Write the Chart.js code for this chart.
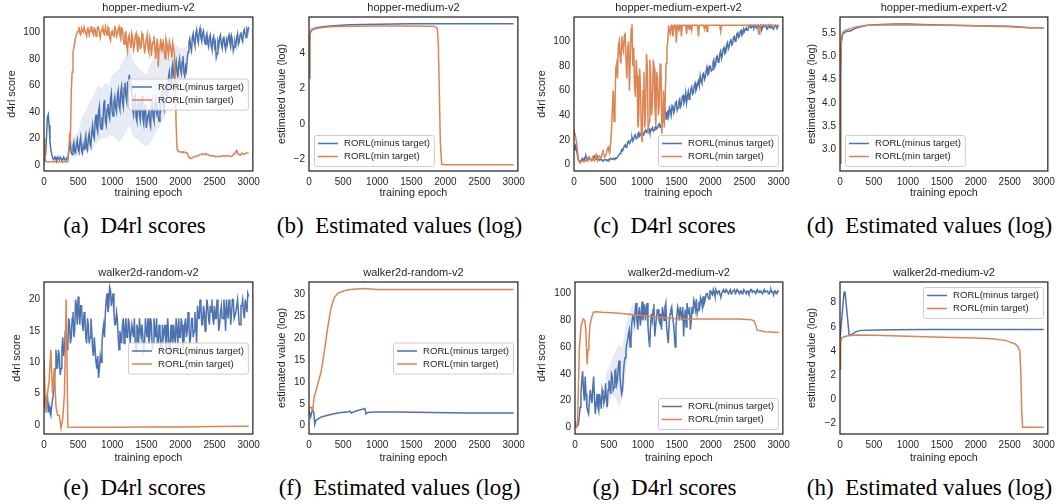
<!DOCTYPE html>
<html>
<head>
<meta charset="utf-8">
<script src="https://cdn.jsdelivr.net/npm/chart.js@4.4.0/dist/chart.umd.min.js"></script>
<style>
  body{margin:0;background:#fff;width:1060px;height:504px;position:relative;overflow:hidden}
  canvas{position:absolute}
  .cap{position:absolute;width:265px;text-align:center;font-family:"Liberation Serif","Times New Roman",serif;font-size:23px;line-height:23px;color:#000;white-space:nowrap}
  .cap span{margin-left:6px}
</style>
</head>
<body>
<div class="cap" style="left:2px;top:214px">(a) <span>D4rl scores</span></div>
<div class="cap" style="left:267px;top:214px">(b) <span>Estimated values (log)</span></div>
<div class="cap" style="left:532px;top:214px">(c) <span>D4rl scores</span></div>
<div class="cap" style="left:797px;top:214px">(d) <span>Estimated values (log)</span></div>
<div class="cap" style="left:2px;top:476px">(e) <span>D4rl scores</span></div>
<div class="cap" style="left:267px;top:476px">(f) <span>Estimated values (log)</span></div>
<div class="cap" style="left:532px;top:476px">(g) <span>D4rl scores</span></div>
<div class="cap" style="left:797px;top:476px">(h) <span>Estimated values (log)</span></div>
<script>
// ---- data ----
const MINUS_LABEL = "RORL(minus target)";
const MIN_LABEL = "RORL(min target)";
const X_TICKS = [0,500,1000,1500,2000,2500,3000];

const EPOCHS = [0,25,50,75,100,125,150,175,200,225,250,275,300,325,350,375,400,425,450,475,
  500,525,550,575,600,625,650,675,700,725,750,775,800,825,850,875,900,925,950,975,
  1000,1025,1050,1075,1100,1125,1150,1175,1200,1225,1250,1275,1300,1325,1350,1375,1400,1425,1450,1475,
  1500,1525,1550,1575,1600,1625,1650,1675,1700,1725,1750,1775,1800,1825,1850,1875,1900,1925,1950,1975,
  2000,2025,2050,2075,2100,2125,2150,2175,2200,2225,2250,2275,2300,2325,2350,2375,2400,2425,2450,2475,
  2500,2525,2550,2575,2600,2625,2650,2675,2700,2725,2750,2775,2800,2825,2850,2875,2900,2925,2950,2975,
  3000];
// in-between epochs for the noisiest curves
const MID_EPOCHS = [12.5,37.5,62.5,87.5,112.5,137.5,162.5,187.5,212.5,237.5,262.5,287.5,312.5,337.5,362.5,387.5,412.5,437.5,462.5,487.5,
  512.5,537.5,562.5,587.5,612.5,637.5,662.5,687.5,712.5,737.5,762.5,787.5,812.5,837.5,862.5,887.5,912.5,937.5,962.5,987.5,
  1012.5,1037.5,1062.5,1087.5,1112.5,1137.5,1162.5,1187.5,1212.5,1237.5,1262.5,1287.5,1312.5,1337.5,1362.5,1387.5,1412.5,1437.5,1462.5,1487.5,
  1512.5,1537.5,1562.5,1587.5,1612.5,1637.5,1662.5,1687.5,1712.5,1737.5,1762.5,1787.5,1812.5,1837.5,1862.5,1887.5,1912.5,1937.5,1962.5,1987.5,
  2012.5,2037.5,2062.5,2087.5,2112.5,2137.5,2162.5,2187.5,2212.5,2237.5,2262.5,2287.5,2312.5,2337.5,2362.5,2387.5,2412.5,2437.5,2462.5,2487.5,
  2512.5,2537.5,2562.5,2587.5,2612.5,2637.5,2662.5,2687.5,2712.5,2737.5,2762.5,2787.5,2812.5,2837.5,2862.5,2887.5,2912.5,2937.5,2962.5,2987.5];

// (a) hopper-medium-v2, d4rl score
const A_MINUS = [15,8,36,30,12,6,5,4,6,4,5,4,5,4,5,13,9,14,10,16,
  12,17,11,15,18,13,20,16,25,22,33,28,40,30,36,45,33,42,38,50,
  40,47,43,52,45,55,48,58,52,63,68,55,42,50,36,45,38,48,35,42,
  28,38,32,44,36,46,40,36,47,52,45,58,54,66,62,72,68,74,70,76,
  72,78,70,74,80,92,89,96,93,99,95,100,96,99,94,97,92,96,90,95,
  89,81,93,96,91,95,90,94,96,92,97,86,93,96,91,98,95,100,98,102,
  104];
const A_MINUS_MID = [5,22,38,18,8,4,6,3,5,6,3.5,6,3.5,5.5,10,16,8,17,9,19,
  10,21,9,12,22,11,24,14,30,20,38,25,44,27,32,49,30,46,35,54,
  37,51,40,56,42,59,44,62,48,58,62,60,38,54,33,50,34,52,31,46,
  33,42,29,48,33,50,44,33,43,56,42,62,50,70,58,76,65,78,66,80,
  69,82,67,71,85,95,86,99,90,102,92,103,93,101,91,99,89,98,87,97,
  92,84,90,98,88,97,87,91,98,89,94,89,90,99,93,100,93,102,96,100];
const A_MIN = [20,3,2.5,2.5,2.5,2.4,2.5,2.6,2.5,2.4,2.5,2.6,2.5,2.5,3,22,55,85,92,98,
  101,99,103,100,104,97,103,101,104,98,102,100,104,96,102,99,104,98,103,94,
  101,97,103,99,104,95,102,91,100,86,98,88,96,90,99,85,95,89,97,84,
  94,88,96,82,93,87,91,74,90,85,93,80,92,83,90,81,88,60,12,10,
  10,9.5,10,9,9,6,5,5.5,6,6.5,7,7.5,8,8.5,8,8.5,8,7.5,7,7,
  6.5,6.5,6.5,6.5,6.5,7,6.5,7,6.5,7,6.5,8,9,11,8,7.5,9,8,8.5,9,
  9];
const A_MIN_MID = [8,2.5,2.5,2.5,2.5,2.5,2.5,2.5,2.5,2.5,2.5,2.5,2.5,2.5,12,20,70,88,96,100,
  104,98,101,104,99,103,98,104,100,103,97,104,99,101,104,98,101,104,96,100,
  98,104,97,102,98,103,94,99,90,96,92,99,87,97,92,96,88,99,92,90,
  98,85,92,90,97,80,95,88,95,91,86,95,87,93,86,92,84,30,11,10,
  9.5,10,9.5,9,7,5.5,5,6,6,7,7,8,8,8.5,8,8,7.5,7,7,7,
  6.5,6.5,6.5,6.5,7,7,7,7,7,6.5,7,8.5,10,9,8,8,8.5,8.5,9,9];
const A_BAND_X = [400,450,500,550,600,650,700,750,800,850,900,950,1000,1050,1100,1150,1200,1250,1300,1350,
  1400,1450,1500,1550,1600,1650,1700,1750,1800,1850,1900,1950,2000,2050,2100];
const A_BAND_HI = [20,22,25,35,40,45,50,55,60,58,62,60,68,70,72,78,82,88,80,75,
  72,70,68,75,80,85,88,90,92,92,92,90,88,88,90];
const A_BAND_LO = [5,6,7,8,10,10,12,15,18,20,20,22,22,20,18,20,25,30,22,20,
  18,15,14,16,20,25,30,35,40,45,50,55,58,62,70];

// (b) hopper-medium-v2, estimated value (log)
const B_MINUS_X = [0,10,20,40,80,150,300,600,1000,1500,2000,2500,3000];
const B_MINUS = [2.6,4.6,5.2,5.35,5.42,5.48,5.55,5.62,5.65,5.67,5.68,5.68,5.68];
const B_MIN_X = [0,10,20,40,80,150,300,600,1000,1500,1800,1860,1880,1895,1910,1925,1945,2000,2500,3000];
const B_MIN = [2.6,4.5,5.15,5.3,5.38,5.44,5.5,5.53,5.55,5.55,5.54,5.5,5.4,4.6,2.0,-1.0,-2.3,-2.32,-2.32,-2.32];

// (c) hopper-medium-expert-v2, d4rl score
const C_MINUS = [12,16,8,3,2.5,5,3,7,4,6,3.5,5,7,4,6,3.5,4.5,3,4,3.5,
  4,4.5,4,5,4.5,5,7,9,12,13,16,15,19,18,22,21,24,22,26,24,
  27,25,28,27,29,27,30,28,31,30,33,31,36,41,37,43,46,40,47,45,
  51,46,53,49,56,52,50,59,56,63,58,66,62,68,72,66,74,71,79,74,
  80,77,85,81,88,84,92,89,95,91,99,96,102,98,104,101,107,104,109,106,
  108,111,110,113,111,112,113,111,113,112,109,113,112,110,113,111,112,110,113,111,
  113];
const C_MINUS_MID = [15,11,4,2,4,3.5,6,5,5,4,4,6,5,5,4.5,4,3.5,3.5,4,3,
  3.5,5,4.5,4,5.5,6,8,10,11,15,14,18,17,20,19,23,21,25,23,26,
  24,27,26,29,26,29,27,30,29,32,30,34,35,44,42,39,44,48,42,50,
  44,51,47,55,50,58,55,53,61,57,64,60,66,64,68,73,69,76,73,80,
  76,83,79,87,83,90,86,94,90,97,94,100,97,103,100,106,103,108,105,110,
  110,109,112,111,113,111,112,113,111,113,111,112,113,110,112,113,111,112,112,112];
const C_MIN = [24,22,12,2.5,2,3,2,4,2.5,5,3,6,3,8,4,7,5,12,6,9,
  14,10,28,60,45,82,96,88,104,92,106,70,100,85,114,95,55,72,40,62,
  18,75,45,80,35,70,50,78,32,68,48,78,38,30,82,100,108,113,104,113,
  99,113,113,104,113,113,106,113,113,109,113,113,113,104,113,113,113,113,108,113,
  113,113,113,113,113,113,108,113,113,113,113,113,113,113,113,113,113,113,113,113,
  113,113,113,113,113,113,113,113,109,113,113,113,113,113,113,113,113,113,113,113,
  113];
const C_MIN_MID = [25,18,4,2,2.5,2.5,3,3,4,4,4,4,6,5,6,6,9,8,7,12,
  11,18,45,35,78,70,100,82,95,105,85,95,60,110,80,65,85,30,78,25,
  60,30,90,25,85,40,85,45,75,40,82,25,60,55,95,113,106,113,110,113,
  113,108,113,113,113,113,113,110,113,113,113,113,113,113,113,113,110,113,113,113,
  113,113,113,113,113,113,113,113,113,113,113,113,113,113,113,113,113,113,113,113,
  113,113,113,113,113,113,113,113,106,113,113,113,113,113,113,113,113,113,113,113];

// (d) hopper-medium-expert-v2, estimated value (log)
const D_MINUS_X = [0,10,20,40,80,150,250,400,600,800,1000,1200,1500,2000,2500,2800,3000];
const D_MINUS = [2.7,4.6,5.3,5.48,5.53,5.55,5.62,5.67,5.69,5.7,5.7,5.69,5.68,5.66,5.65,5.62,5.62];
const D_MIN_X = [0,10,20,40,80,150,250,400,600,800,1000,1200,1500,2000,2500,2800,3000];
const D_MIN = [2.7,4.7,5.4,5.52,5.56,5.6,5.64,5.67,5.68,5.68,5.68,5.68,5.67,5.66,5.64,5.62,5.62];

// (e) walker2d-random-v2, d4rl score
const E_MINUS = [4.5,2.5,5,3,1.5,4,6,12,9,11,9,14,12,15,13,16,14,18,15,19,
  20.5,16,19,15,17,13,16,14,15,11,12,9,7.5,11,13,16,18,21,19,21.5,
  20,18,16,17,12,14,16,13,17,14,16,13,15,17,12,15,17,14,16,13,
  15,17,14,16,13,15,17,13,15,12,14,16,13,15,12,14,16,13,15,17,
  14,16,13,17,15,16,14,17,15,16,19,17,19,16,18,17,19,16,18,17,
  19,17,18,16,19,17,18,20,17,19,18,20,17,19,18,16,19,18,20,18,
  20.5];
const E_MINUS_MID = [3,4,2,2,3,5,9,10,12,8,12,11,15,12,17,13,17,14,20,16,
  18,19,16,18,14,17,13,17,12,14,10,11,9,10,15,14,20,18,22,19,
  21,16,18,14,15,13,17,15,14,17,13,16,14,13,16,13,15,16,12,17,
  14,13,17,12,17,14,13,16,12,16,15,12,17,11,16,13,14,17,13,14,
  17,12,16,14,18,13,17,14,18,13,17,20,16,19,15,20,17,19,20,16,
  17,20,15,18,17,20,15,18,20,16,20,17,18,20,16,19,20,17,19,21];
const E_MIN_X = [0,25,50,75,100,125,150,175,200,225,250,275,300,325,350,500,1000,1500,2000,2500,3000];
const E_MIN = [10.5,2,5,7,12,5,9,3,1.5,1.5,-0.5,1,5,20,-0.3,-0.35,-0.35,-0.3,-0.3,-0.25,-0.2];

// (f) walker2d-random-v2, estimated value (log)
const F_MINUS_X = [0,25,50,70,85,100,130,180,275,370,470,560,600,620,700,800,820,835,860,950,1300,1800,2300,3000];
const F_MINUS = [3.5,2.0,3.8,3.0,0.3,1.2,1.5,2.0,2.4,2.7,3.0,3.1,3.3,2.9,3.4,3.8,3.9,2.7,3.0,3.1,3.1,3.0,2.9,2.9];
const F_MIN_X = [0,30,55,75,130,180,230,275,325,370,420,515,610,800,900,1000,2000,3000];
const F_MIN = [4,4.2,3.6,6.5,9.5,12.5,17.5,22.5,27,29.2,30.2,30.8,31.1,31.3,31.2,31.1,31.1,31.1];

// (g) walker2d-medium-v2, d4rl score
const G_MINUS = [1,0.5,2,15,35,28,38,15,10,28,18,38,10,25,12,20,28,18,33,15,
  35,25,38,30,43,35,50,30,28,48,58,65,73,66,83,78,93,73,90,82,
  80,92,88,76,60,85,88,68,82,88,78,73,86,90,75,63,85,90,78,60,
  83,87,90,80,68,88,93,85,73,90,95,88,85,94,97,90,92,98,100,96,
  102,99,101,103,100,102,98,102,101,103,101,102,100,102,103,101,102,100,102,101,
  102,100,102,101,103,102,101,102,101,102,101,102,101,102,100,102,101,99,102,101,
  101];
const G_MINUS_MID = [0.5,1,8,25,42,20,25,12,20,22,30,20,18,15,25,14,24,22,20,28,
  30,40,28,42,32,45,38,25,40,52,62,70,60,78,82,88,80,85,76,94,
  86,80,93,66,75,80,92,75,88,80,85,90,80,93,68,78,88,82,70,75,
  90,80,85,90,82,75,86,90,80,85,92,96,88,90,95,98,94,100,97,102,
  100,103,98,101,102,99,100,103,101,102,100,103,101,102,100,103,101,102,100,103,
  101,102,100,103,101,102,100,103,101,102,100,103,101,102,100,103,101,102,100,102];
const G_MIN_X = [0,20,35,50,65,90,120,145,160,178,192,205,220,245,270,300,400,600,800,1000,
  1200,1400,1600,2000,2400,2600,2640,2660,2680,2700,2800,3000];
const G_MIN = [5,0,1,30,60,76,81,80,72,47,58,65,76,82,86,86.5,86,85.5,84.5,83.5,
  82.5,81.5,81,81,81,80.5,79.5,77,73,72.5,71.5,71];
const G_BAND_X = [450,500,550,600,650,700,750,800,850,900];
const G_BAND_HI = [40,45,52,58,62,60,78,86,92,95];
const G_BAND_LO = [12,18,24,22,15,22,42,60,68,74];

// (h) walker2d-medium-v2, estimated value (log)
const H_MINUS_X = [0,60,75,135,170,240,310,550,800,1300,3000];
const H_MINUS = [5.0,8.85,8.85,5.3,5.35,5.6,5.7,5.73,5.75,5.77,5.77];
const H_MIN_X = [0,10,25,50,120,250,500,1000,1500,2000,2250,2450,2580,2620,2650,2665,2677,2690,3000];
const H_MIN = [2.5,4.6,5.05,5.15,5.25,5.32,5.3,5.22,5.13,5.06,5.0,4.85,4.57,4.35,4.0,2.0,-1.0,-2.33,-2.33];

const TICKS_SCORE = [0,20,40,60,80,100];
const TICKS_B = [-2,0,2,4];
const TICKS_D = [3.0,3.5,4.0,4.5,5.0,5.5];
const TICKS_E = [0,5,10,15,20];
const TICKS_F = [0,5,10,15,20,25,30];
const TICKS_H = [-2,0,2,4,6,8];

// ---- styling ----
const BLUE = "#4c72b0", ORANGE = "#dd8452", INK = "#262626";
const SANS = '"Liberation Sans", Arial, sans-serif';
Chart.defaults.font.family = SANS;

const PANELS = [
  {col:0,row:0,title:"hopper-medium-v2",ylab:"d4rl score",ylabX:12.5,left:44,yMin:-4.5,yMax:111.5,yTicks:TICKS_SCORE,dec:0,loc:"center right",
   minus:[EPOCHS,A_MINUS,MID_EPOCHS,A_MINUS_MID],min:[EPOCHS,A_MIN,MID_EPOCHS,A_MIN_MID],band:[A_BAND_X,A_BAND_HI,A_BAND_LO]},
  {col:1,row:0,title:"hopper-medium-v2",ylab:"estimated value (log)",ylabX:16.7,left:44,yMin:-2.68,yMax:6.06,yTicks:TICKS_B,dec:0,loc:"lower left",
   minus:[B_MINUS_X,B_MINUS],min:[B_MIN_X,B_MIN]},
  {col:2,row:0,title:"hopper-medium-expert-v2",ylab:"d4rl score",ylabX:12.5,left:44,yMin:-5.3,yMax:119.8,yTicks:TICKS_SCORE,dec:0,loc:"lower right",
   minus:[EPOCHS,C_MINUS,MID_EPOCHS,C_MINUS_MID],min:[EPOCHS,C_MIN,MID_EPOCHS,C_MIN_MID]},
  {col:3,row:0,title:"hopper-medium-expert-v2",ylab:"estimated value (log)",ylabX:16.7,left:45,yMin:2.53,yMax:5.85,yTicks:TICKS_D,dec:1,loc:"lower left",
   minus:[D_MINUS_X,D_MINUS],min:[D_MIN_X,D_MIN]},
  {col:0,row:1,title:"walker2d-random-v2",ylab:"d4rl score",ylabX:17.5,left:44,yMin:-1.43,yMax:22.8,yTicks:TICKS_E,dec:0,loc:"center right",
   minus:[EPOCHS,E_MINUS,MID_EPOCHS,E_MINUS_MID],min:[E_MIN_X,E_MIN]},
  {col:1,row:1,title:"walker2d-random-v2",ylab:"estimated value (log)",ylabX:17,left:44,yMin:-1.9,yMax:32.8,yTicks:TICKS_F,dec:0,loc:"center right",
   minus:[F_MINUS_X,F_MINUS],min:[F_MIN_X,F_MIN]},
  {col:2,row:1,title:"walker2d-medium-v2",ylab:"d4rl score",ylabX:12.5,left:45,yMin:-5,yMax:108.7,yTicks:TICKS_SCORE,dec:0,loc:"lower right",
   minus:[EPOCHS,G_MINUS,MID_EPOCHS,G_MINUS_MID],min:[G_MIN_X,G_MIN],band:[G_BAND_X,G_BAND_HI,G_BAND_LO]},
  {col:3,row:1,title:"walker2d-medium-v2",ylab:"estimated value (log)",ylabX:17.5,left:45,yMin:-2.89,yMax:9.71,yTicks:TICKS_H,dec:0,loc:"upper right",
   minus:[H_MINUS_X,H_MINUS],min:[H_MIN_X,H_MIN]}
];

// frame around the axes + matplotlib-like legend inside the axes
const framePlugin = {
  id: "frameLegend",
  afterDatasetsDraw(chart, args, opts) {
    const {ctx, chartArea: a} = chart;
    ctx.save();
    ctx.strokeStyle = INK;
    ctx.lineWidth = 1.25;
    ctx.strokeRect(a.left, a.top, a.right - a.left, a.bottom - a.top);

    ctx.font = "9.6px " + SANS;
    const items = [{t: MINUS_LABEL, c: BLUE}, {t: MIN_LABEL, c: ORANGE}];
    const tw = Math.max(...items.map(i => ctx.measureText(i.t).width));
    const w = 30 + tw + 4, h = 31, gap = 5;
    const [v, hz] = opts.loc.split(" ");
    const x = hz === "right" ? a.right - gap - w : a.left + gap;
    const y = v === "upper" ? a.top + gap : v === "lower" ? a.bottom - gap - h : (a.top + a.bottom - h) / 2;
    ctx.beginPath();
    ctx.roundRect(x + 0.5, y + 0.5, w, h, 2);
    ctx.fillStyle = "rgba(255,255,255,0.8)";
    ctx.fill();
    ctx.strokeStyle = "#cccccc";
    ctx.lineWidth = 1;
    ctx.stroke();
    ctx.textBaseline = "middle";
    items.forEach((it, k) => {
      const ly = y + 8.5 + 13 * k;
      ctx.strokeStyle = it.c;
      ctx.lineWidth = 1.5;
      ctx.beginPath();
      ctx.moveTo(x + 4, ly); ctx.lineTo(x + 24, ly);
      ctx.stroke();
      ctx.fillStyle = INK;
      ctx.fillText(it.t, x + 30, ly);
    });
    ctx.restore();
  }
};

// join the main grid and the optional in-between readings into one sorted point list
function pts(xs, ys, xs2, ys2) {
  const out = xs.map((x, i) => ({x: x, y: ys[i]}));
  if (xs2) xs2.forEach((x, i) => out.push({x: x, y: ys2[i]}));
  return out.sort((p, q) => p.x - q.x);
}
const fmt = (v, dec) => v.toFixed(dec).replace("-", "\u2212");

function buildPanel(p) {
  const cv = document.createElement("canvas");
  const axisH = p.row ? 31 : 29;
  const bottom = p.row ? 184 : 171;
  cv.width = 265; cv.height = bottom + axisH;
  cv.style.left = (p.col * 265) + "px";
  cv.style.top = (p.row ? 250 : 0) + "px";
  document.body.appendChild(cv);

  const ds = [];
  if (p.band) {
    ds.push({data: pts(p.band[0], p.band[1]), borderColor: "rgba(0,0,0,0)", borderWidth: 0.5, pointRadius: 0,
      fill: "+1", backgroundColor: "rgba(76,114,176,0.14)", order: 3});
    ds.push({data: pts(p.band[0], p.band[2]), borderColor: "rgba(0,0,0,0)", borderWidth: 0.5, pointRadius: 0, fill: false, order: 3});
  }
  ds.push({label: MINUS_LABEL, data: pts(...p.minus), borderColor: BLUE, borderWidth: 1.5, pointRadius: 0, fill: false, order: 2});
  ds.push({label: MIN_LABEL, data: pts(...p.min), borderColor: ORANGE, borderWidth: 1.5, pointRadius: 0, fill: false, order: 1});

  new Chart(cv, {
    type: "line",
    data: {datasets: ds},
    options: {
      responsive: false, animation: false, devicePixelRatio: 1, events: [],
      layout: {padding: {left: 0, right: 9, top: p.row ? 15 : 0, bottom: 0}},
      plugins: {
        legend: {display: false}, tooltip: {enabled: false},
        title: {display: true, fullSize: false, text: p.title, color: INK, font: {size: 11, weight: "normal"}, padding: {top: 1.8, bottom: 2}},
        frameLegend: {loc: p.loc}
      },
      scales: {
        x: {
          type: "linear", min: 0, max: 3062,
          grid: {display: false, drawTicks: false}, border: {display: false},
          afterBuildTicks: s => { s.ticks = X_TICKS.map(v => ({value: v})); },
          afterFit: s => { s.height = axisH; },
          ticks: {autoSkip: false, maxRotation: 0, padding: 5, color: INK, font: {size: 10}, callback: v => fmt(v, 0)},
          title: {display: true, text: "training epoch", color: INK, font: {size: 10.8}, padding: {top: 0, bottom: 0}}
        },
        y: {
          min: p.yMin, max: p.yMax,
          grid: {display: false, drawTicks: false}, border: {display: false},
          afterBuildTicks: s => { s.ticks = p.yTicks.map(v => ({value: v})); },
          afterFit: s => { s.width = p.left; },
          ticks: {padding: 4, color: INK, font: {size: 10}, callback: v => fmt(v, p.dec)},
          title: {display: true, text: p.ylab, color: INK, font: {size: 10.8}, padding: {top: p.ylabX - 6.5, bottom: 0}}
        }
      }
    },
    plugins: [framePlugin]
  });
}

PANELS.forEach(buildPanel);
</script>
</body>
</html>
